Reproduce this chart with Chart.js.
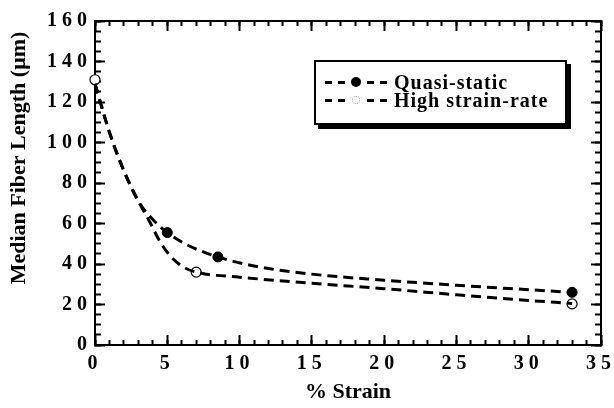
<!DOCTYPE html>
<html>
<head>
<meta charset="utf-8">
<script src="https://cdn.jsdelivr.net/npm/chart.js@4"></script>
<style>
  html, body { margin: 0; padding: 0; background: #fff; }
  #wrap { position: relative; width: 614px; height: 408px; }
  #legend {
    position: absolute; left: 314px; top: 60px; width: 249px; height: 61px;
    border: 2px solid #000; box-shadow: 4px 4px 0 #000; background: #fff;
    font: bold 20px "Liberation Serif", "DejaVu Serif", serif; color: #000;
    letter-spacing: 1px;
  }
  .row { position: absolute; left: 6px; height: 20px; display: flex; align-items: center; white-space: nowrap; }
  .dash { width: 7px; height: 0; border-top: 3px solid #000; margin: 0 3px; }
  .dot { width: 10px; height: 10px; border-radius: 50%; margin: 0 3px; box-sizing: border-box; }
  .lbl { margin-left: 4px; }
</style>
</head>
<body>
<div id="wrap">
  <canvas id="chart" width="614" height="408"></canvas>
  <div id="legend">
    <div class="row" style="top:10px">
      <div class="dash"></div><div class="dash"></div><div class="dot" style="background:#000"></div><div class="dash"></div><div class="dash"></div>
      <span class="lbl">Quasi-static</span>
    </div>
    <div class="row" style="top:28px">
      <div class="dash"></div><div class="dash"></div><div class="dot" style="border:1px dotted #999;background:#fff;width:8px;height:8px;margin:0 4px"></div><div class="dash"></div><div class="dash"></div>
      <span class="lbl">High strain-rate</span>
    </div>
  </div>
</div>
<script>
// Measured points
const quasiX = [5, 8.5, 33];
const quasiY = [55.5, 43.5, 26];
const highX = [0, 7, 33];
const highY = [131, 36, 20.3];

// Dashed fit curves
const quasiFitX = [0, 1, 2, 3, 4, 5, 6.5, 8.5, 11, 15, 20, 25, 30, 33];
const quasiFitY = [129, 105, 86, 71, 62, 55.5, 49, 43.5, 39, 35, 32, 29.5, 27.3, 26];
const highFitX = [0, 1, 2, 3, 3.7, 4.5, 5.2, 6, 7, 10, 15, 20, 25, 30, 33];
const highFitY = [129, 105, 86, 71, 62, 51, 44, 39, 36, 33.5, 30.5, 27.8, 24.8, 22, 20.5];

const xTicks = [0, 5, 10, 15, 20, 25, 30, 35];
const yTicks = [0, 20, 40, 60, 80, 100, 120, 140, 160];
const xMinorTicks = [];
for (let v = 0; v <= 35; v++) xMinorTicks.push(v);
const yMinorTicks = [];
for (let v = 0; v <= 160; v += 5) yMinorTicks.push(v);

function toPoints(xs, ys) {
  return xs.map((x, i) => ({ x: x, y: ys[i] }));
}

const serif = '"Liberation Serif", "DejaVu Serif", serif';
const tickFont = { family: serif, size: 20, weight: 'bold' };
const titleFont = { family: serif, size: 22, weight: 'bold' };

// an axis that only draws inward tick marks (and optionally the frame line)
function tickAxis(position, axis, values, len, weight, frame) {
  const horizontal = axis === 'x';
  return {
    type: 'linear', position: position, axis: axis, weight: weight,
    min: horizontal ? 0 : 0, max: horizontal ? 35 : 160,
    afterBuildTicks: (s) => { s.ticks = values.map(v => ({ value: v })); },
    afterFit: (s) => {
      if (horizontal) s.height = 0; else s.width = 0;
      s.paddingLeft = 0; s.paddingRight = 0; s.paddingTop = 0; s.paddingBottom = 0;
    },
    ticks: { display: false },
    grid: { display: true, drawOnChartArea: false, drawTicks: true, tickLength: -len,
            color: '#000', tickWidth: 2 },
    border: { display: frame, color: '#000', width: 2 }
  };
}

// spaced tick digits, and the y title sitting a bit above the middle
const textTweaks = {
  id: 'textTweaks',
  beforeDraw(chart) {
    chart.ctx.letterSpacing = '0px';
    const ys = chart.scales.y;
    if (!ys._shifted) {
      const orig = ys.drawTitle;
      ys.drawTitle = function() {
        const t = this.top;
        this.top = t - 50;
        orig.call(this);
        this.top = t;
      };
      ys._shifted = true;
    }
  },
  afterDatasetsDraw(chart) {
    // tick labels (z: 1) are drawn after this
    chart.ctx.letterSpacing = '5px';
  },
  afterDraw(chart) {
    chart.ctx.letterSpacing = '0px';
  }
};

new Chart(document.getElementById('chart'), {
  type: 'line',
  data: {
    datasets: [
      {
        data: toPoints(quasiFitX, quasiFitY),
        borderColor: '#000', borderWidth: 3, borderDash: [10, 6],
        pointRadius: 0, cubicInterpolationMode: 'monotone', fill: false
      },
      {
        data: toPoints(highFitX, highFitY),
        borderColor: '#000', borderWidth: 3, borderDash: [10, 6],
        pointRadius: 0, cubicInterpolationMode: 'monotone', fill: false
      },
      {
        type: 'scatter', label: 'Quasi-static',
        data: toPoints(quasiX, quasiY),
        pointRadius: 5, pointBackgroundColor: '#000', pointBorderColor: '#000', pointBorderWidth: 1
      },
      {
        type: 'scatter', label: 'High strain-rate',
        data: toPoints(highX, highY),
        pointRadius: 5, pointBackgroundColor: '#fff', pointBorderColor: '#000', pointBorderWidth: 1.2
      }
    ]
  },
  options: {
    responsive: false,
    animation: false,
    clip: false,
    layout: { padding: { top: 21, right: 13, left: 6, bottom: 0 } },
    plugins: { legend: { display: false }, tooltip: { enabled: false } },
    scales: {
      x: {
        type: 'linear', position: 'bottom', weight: 1, min: 0, max: 35,
        afterBuildTicks: (s) => { s.ticks = xTicks.map(v => ({ value: v })); },
        afterFit: (s) => { s.height = 63; s.paddingLeft = 0; s.paddingRight = 0; },
        grid: { display: true, drawOnChartArea: false, drawTicks: true, tickLength: -10,
                color: '#000', tickWidth: 2 },
        border: { display: true, color: '#000', width: 2 },
        ticks: { z: 1, color: '#000', padding: 17, maxRotation: 0, font: tickFont },
        title: { display: true, text: '% Strain', color: '#000', padding: { top: 4, bottom: 2 },
                 font: titleFont }
      },
      xMinor: tickAxis('bottom', 'x', xMinorTicks, 5, 0, false),
      xTop: tickAxis('top', 'x', xTicks, 10, 0, true),
      xTopMinor: tickAxis('top', 'x', xMinorTicks, 5, 0, false),
      y: {
        type: 'linear', position: 'left', weight: 1, min: 0, max: 160,
        afterBuildTicks: (s) => { s.ticks = yTicks.map(v => ({ value: v })); },
        afterFit: (s) => { s.width = 89; s.paddingTop = 0; s.paddingBottom = 0; },
        grid: { display: true, drawOnChartArea: false, drawTicks: true, tickLength: -10,
                color: '#000', tickWidth: 2 },
        border: { display: true, color: '#000', width: 2 },
        ticks: { z: 1, color: '#000', padding: 13, font: tickFont },
        title: { display: true, text: 'Median Fiber Length (\u03bcm)', color: '#000', padding: 0,
                 font: titleFont }
      },
      yMinor: tickAxis('left', 'y', yMinorTicks, 6, 0, false),
      yRight: tickAxis('right', 'y', yTicks, 10, 0, true),
      yRightMinor: tickAxis('right', 'y', yMinorTicks, 6, 0, false)
    }
  },
  plugins: [textTweaks]
});
</script>
</body>
</html>
